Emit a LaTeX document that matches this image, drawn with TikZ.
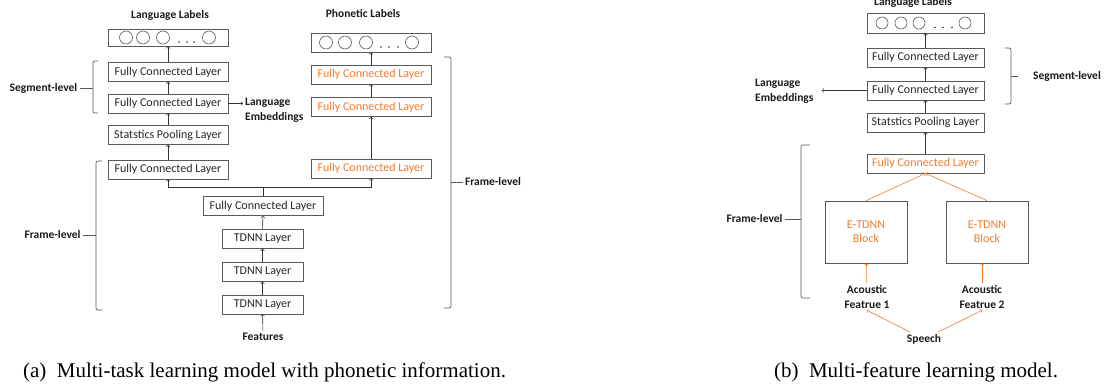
\documentclass[tikz,border=0pt]{standalone}
\usepackage{fontspec}
\setmainfont{Carlito}
\newfontfamily\capfont{Liberation Serif}
\usetikzlibrary{arrows}
\usepackage{xcolor}
\definecolor{ppt_orange}{HTML}{ED7D31}
\definecolor{ppt_gray}{HTML}{595959}

\begin{document}
\begin{tikzpicture}[x=1pt,y=-1pt]
\tikzstyle{block} = [rectangle, draw=ppt_gray, line width=0.7pt, text=black!85,
font=\fontsize{12}{14}\selectfont, minimum width=120pt, minimum height=19pt, inner sep=1pt]
\tikzstyle{block_o} = [block, text=ppt_orange]
\tikzstyle{small} = [block, minimum width=81pt]
\tikzstyle{big} = [block, minimum width=82pt, minimum height=62pt, text=ppt_orange, align=center]
\tikzstyle{label} = [font=\bfseries\fontsize{11.5}{15}\selectfont, text=black!90, inner sep=2pt]
\tikzstyle{line} = [draw=black!80, line width=0.6pt, ->, >=to]
\tikzstyle{line_o} = [draw=ppt_orange, line width=0.6pt, ->, >=to]
\tikzstyle{brace} = [draw=ppt_gray, line width=0.7pt, rounded corners=2pt]
\useasboundingbox (0,0) rectangle (1108,387);

% (a) left column
\node [block] (outA) at (168,37.5) [minimum height=17pt] {};
\node [block] (fcA1) at (168,72) {Fully Connected Layer};
\node [block] (fcA2) at (168,103.5) {Fully Connected Layer};
\node [block] (poolA) at (168,135) {Statstics Pooling Layer};
\node [block] (fcA3) at (168,169.5) {Fully Connected Layer};
% (a) right column
\node [block] (outP) at (371,42.5) {};
\node [block_o] (fcP1) at (371,74.5) {Fully Connected Layer};
\node [block_o] (fcP2) at (371,107) {Fully Connected Layer};
\node [block_o] (fcP3) at (371,168.5) {Fully Connected Layer};
% (a) shared part
\node [block] (fcMid) at (263,206) {Fully Connected Layer};
\node [small] (tdnn1) at (262.5,239) {TDNN Layer};
\node [small] (tdnn2) at (262.5,272) {TDNN Layer};
\node [small] (tdnn3) at (262.5,304.5) {TDNN Layer};
\coordinate (joinA) at (263,187);

\node [label] (featA) at (263,337) {Features};
\node [label] (langA) at (170,15) {Language Labels};
\node [label] (phonA) at (363,14) {Phonetic Labels};
\node [label, align=left, anchor=west] (embA) at (243,110) {Language\\Embeddings};
\node [label] (segA) at (43.5,88) {Segment-level};
\node [label] (frmA) at (52.5,235) {Frame-level};
\node [label] (frmP) at (493,182) {Frame-level};

\foreach \cx in {-42,-25,-5,41} \draw [ppt_gray, line width=0.6pt] ([xshift=\cx pt]outA.center) circle (6.5);
\foreach \cx in {11,19,26} \fill [black!80] ([xshift=\cx pt, yshift=-4.5pt]outA.center) circle (0.9);
\foreach \cx in {-45,-26,-5,41} \draw [ppt_gray, line width=0.6pt] ([xshift=\cx pt]outP.center) circle (6.5);
\foreach \cx in {10,18,27} \fill [black!80] ([xshift=\cx pt, yshift=-4.5pt]outP.center) circle (0.9);

\path [line] (featA) -- (tdnn3);
\path [line] (tdnn3) -- (tdnn2);
\path [line] (tdnn2) -- (tdnn1);
\path [line] (tdnn1) -- (fcMid);
\draw [draw=black!80, line width=0.6pt] (fcMid) -- (joinA);
\path [line] (joinA) -| (fcA3);
\path [line] (joinA) -| (fcP3);
\path [line] (fcA3) -- (poolA);
\path [line] (poolA) -- (fcA2);
\path [line] (fcA2) -- (fcA1);
\path [line] (fcA1) -- (outA);
\path [line] (fcP3) -- (fcP2);
\path [line] (fcP2) -- (fcP1);
\path [line] (fcP1) -- (outP);
\path [line] (fcA2.east) -- (embA.west |- fcA2);

\draw [brace] (98,61) -- (93,61) -- (93,113) -- (98,113);
\draw [brace] (segA.east) -- (93,88);
\draw [brace] (102,161) -- (96,161) -- (96,310) -- (102,310);
\draw [brace] (frmA.east) -- (96,235);
\draw [brace] (444,57) -- (451,57) -- (451,308) -- (444,308);
\draw [brace] (frmP.west) -- (451,182);

% (b)
\node [block] (outB) at (925.5,23) [minimum width=117pt, minimum height=20pt] {};
\node [block] (fcB1) at (925.5,57.5) [minimum width=117pt] {Fully Connected Layer};
\node [block] (fcB2) at (925.5,90.5) [minimum width=117pt] {Fully Connected Layer};
\node [block] (poolB) at (925.5,122.5) [minimum width=117pt] {Statstics Pooling Layer};
\node [block_o] (fcB3) at (925.5,163.5) [minimum width=117pt] {Fully Connected Layer};
\node [big] (etdnnL) at (866,232) {E-TDNN\\Block};
\node [big] (etdnnR) at (987,232) {E-TDNN\\Block};
\node [label, align=center] (acL) at (867,296.5) {Acoustic\\Featrue 1};
\node [label, align=center] (acR) at (982,296.5) {Acoustic\\Featrue 2};
\node [label] (speech) at (924,339) {Speech};
\node [label] (langB) at (913,2) {Language Labels};
\node [label, align=left, anchor=west] (embB) at (753,91.5) {Language\\Embeddings};
\node [label, anchor=west] (segB) at (1031,76) {Segment-level};
\node [label] (frmB) at (754.5,219) {Frame-level};

\foreach \cx in {-43.5,-24.5,-6.5,39.5} \draw [ppt_gray, line width=0.6pt] ([xshift=\cx pt]outB.center) circle (6);
\foreach \cx in {9.5,17.5,26.5} \fill [black!80] ([xshift=\cx pt, yshift=-4.5pt]outB.center) circle (0.9);

\path [line_o] (speech) -- (acL.south);
\path [line_o] (speech) -- (acR.south);
\path [line_o] (acL) -- (etdnnL);
\path [line_o] (acR) -- (acR |- etdnnR.south);
\path [line_o] (etdnnL.north) -- (fcB3.south);
\path [line_o] (etdnnR.north) -- (fcB3.south);
\path [line] (fcB3) -- (poolB);
\path [line] (poolB) -- (fcB2);
\path [line] (fcB2) -- (fcB1);
\path [line] (fcB1) -- (outB);
\path [line, shorten >=6pt] (fcB2.west) -- (embB.east |- fcB2);

\draw [brace] (1005,48) -- (1011,48) -- (1011,104) -- (1005,104);
\draw [brace] (1018,76) -- (1011,76);
\draw [brace] (810,145) -- (801,145) -- (801,298) -- (810,298);
\draw [brace] (frmB.east) -- (801,219);

% captions
\node [font=\capfont\fontsize{21}{24}\selectfont, inner sep=0pt] (capA) at (264.5,372) {(a)\enspace Multi-task learning model with phonetic information.};
\node [font=\capfont\fontsize{21}{24}\selectfont, inner sep=0pt] (capB) at (916,372) {(b)\enspace Multi-feature learning model.};

\end{tikzpicture}
\end{document}
